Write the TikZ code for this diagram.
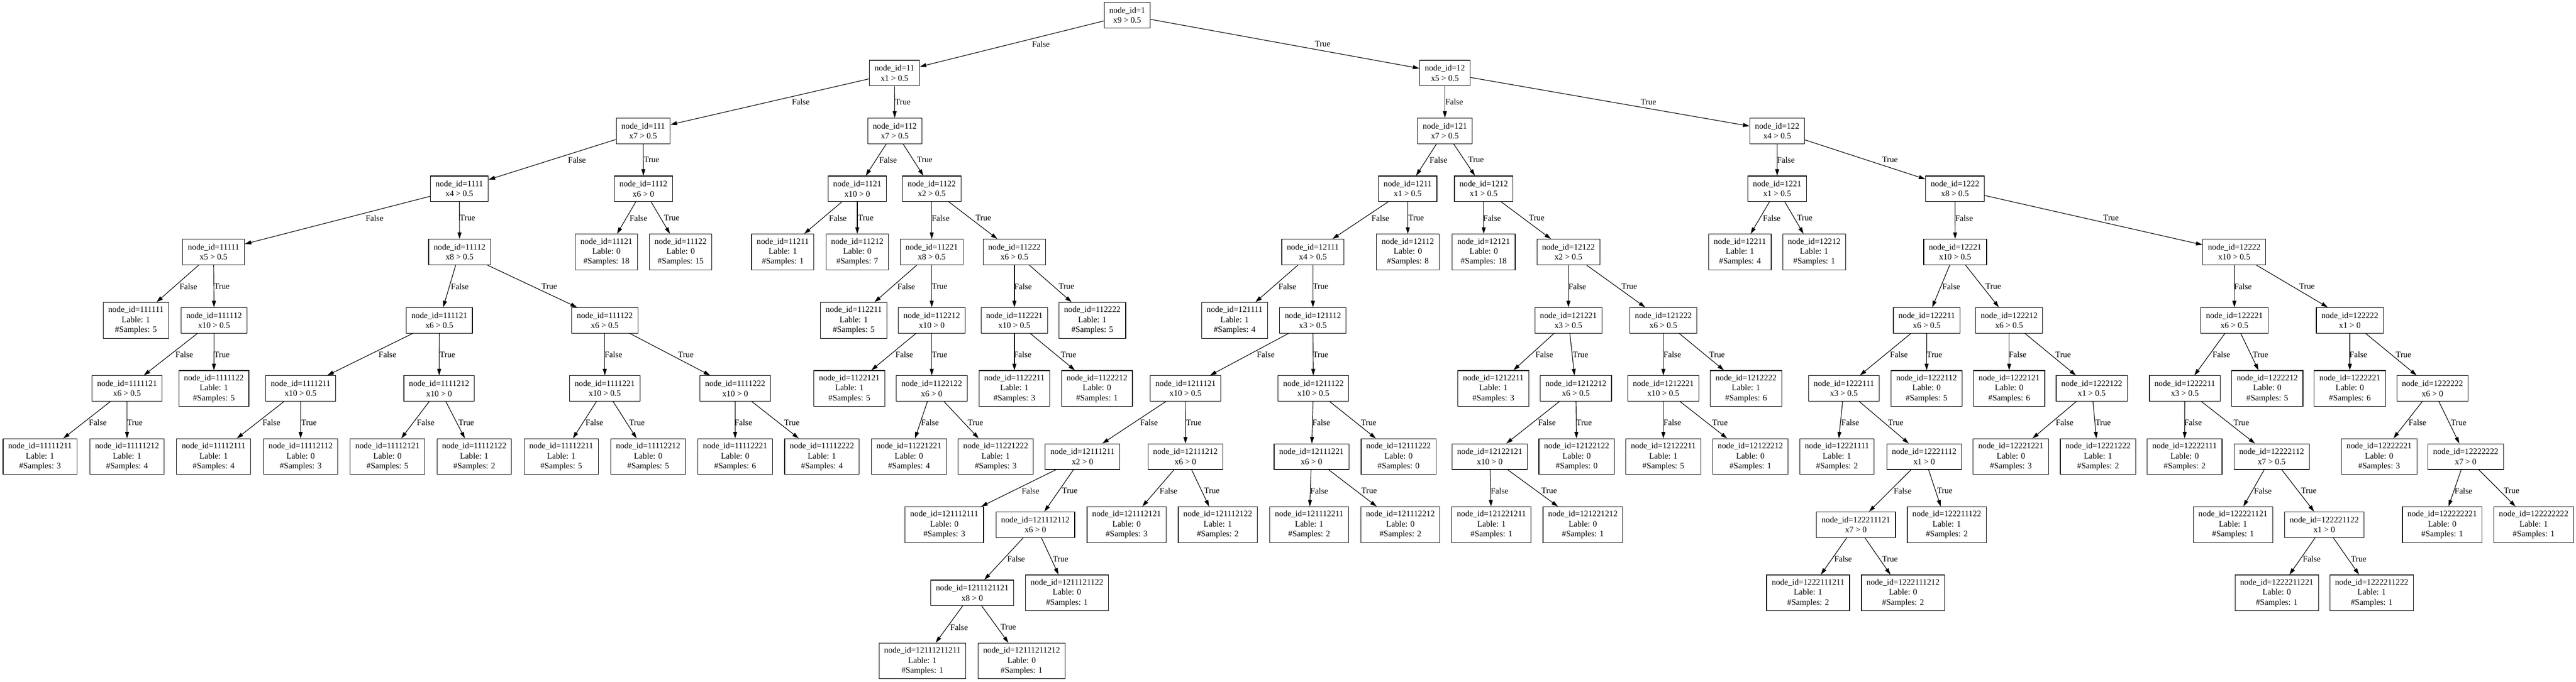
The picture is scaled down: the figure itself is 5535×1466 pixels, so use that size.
\documentclass[tikz,border=0pt]{standalone}
\usepackage{fontspec}
\setmainfont{Liberation Serif}
\usetikzlibrary{arrows.meta}
\newcommand\Sp[4]{\node[splitnode] (n#1) at (#2,#3) {node\_id=#1\\#4};}
\newcommand\Lf[5]{\node[leafnode] (n#1) at (#2,#3) {node\_id=#1\\Lable: #4\\\#Samples: #5};}
\newcommand\Ef[4]{\draw[edge] (n#1) -- (n#2); \node[elab] (f#2) at (#3,#4) {False};}
\newcommand\Et[4]{\draw[edge] (n#1) -- (n#2); \node[elab] (t#2) at (#3,#4) {True};}
\begin{document}
\begin{tikzpicture}[x=1pt,y=-1pt,
  basebox/.style={draw, line width=1.3pt, rectangle, align=center,
    font=\fontsize{18}{21.5}\selectfont, inner xsep=11pt, inner ysep=2pt,
    minimum width=69pt},
  splitnode/.style={basebox, minimum height=55pt},
  leafnode/.style={basebox, minimum height=77pt},
  edge/.style={line width=1.3pt, -{Triangle[length=14pt,width=8.5pt]}},
  elab/.style={anchor=west, inner sep=0pt, font=\fontsize{18}{21.5}\selectfont}]
\useasboundingbox[fill=white] (0,0) rectangle (5535,1466);
% level 0
\Sp{1}{2422}{32.5}{x9 > 0.5}
% level 1
\Sp{11}{1922}{157}{x1 > 0.5}
\Sp{12}{3104.6}{157}{x5 > 0.5}
% level 2
\Sp{111}{1382}{281.5}{x7 > 0.5}
\Sp{112}{1922.5}{281.5}{x7 > 0.5}
\Sp{121}{3104.6}{281.5}{x7 > 0.5}
\Sp{122}{3818.5}{281.5}{x4 > 0.5}
% level 3
\Sp{1111}{987}{406}{x4 > 0.5}
\Sp{1112}{1382.5}{406}{x6 > 0}
\Sp{1121}{1842}{406}{x10 > 0}
\Sp{1122}{2002}{406}{x2 > 0.5}
\Sp{1211}{3024.7}{406}{x1 > 0.5}
\Sp{1212}{3188}{406}{x1 > 0.5}
\Sp{1221}{3818.5}{406}{x1 > 0.5}
\Sp{1222}{4200.6}{406}{x8 > 0.5}
% level 4
\Sp{11111}{459}{542}{x5 > 0.5}
\Sp{11112}{987.5}{542}{x8 > 0.5}
\Lf{11121}{1303}{542}{0}{18}
\Lf{11122}{1462.5}{542}{0}{15}
\Lf{11211}{1682}{542}{1}{1}
\Lf{11212}{1842}{542}{0}{7}
\Sp{11221}{2002}{542}{x8 > 0.5}
\Sp{11222}{2179.6}{542}{x6 > 0.5}
\Sp{12111}{2821}{542}{x4 > 0.5}
\Lf{12112}{3025}{542}{0}{8}
\Lf{12121}{3188}{542}{0}{18}
\Sp{12122}{3370}{542}{x2 > 0.5}
\Lf{12211}{3738.6}{542}{1}{4}
\Lf{12212}{3898}{542}{1}{1}
\Sp{12221}{4201}{542}{x10 > 0.5}
\Sp{12222}{4800.6}{542}{x10 > 0.5}
% level 5
\Lf{111111}{292}{689}{1}{5}
\Sp{111112}{460}{689}{x10 > 0.5}
\Sp{111121}{944}{689}{x6 > 0.5}
\Sp{111122}{1299.5}{689}{x6 > 0.5}
\Lf{112211}{1834.5}{689}{1}{5}
\Sp{112212}{2002}{689}{x10 > 0}
\Sp{112221}{2179.6}{689}{x10 > 0.5}
\Lf{112222}{2347}{689}{1}{5}
\Lf{121111}{2652.8}{689}{1}{4}
\Sp{121112}{2821}{689}{x3 > 0.5}
\Sp{121221}{3370}{689}{x3 > 0.5}
\Sp{121222}{3574}{689}{x6 > 0.5}
\Sp{122211}{4140}{689}{x6 > 0.5}
\Sp{122212}{4317}{689}{x6 > 0.5}
\Sp{122221}{4801}{689}{x6 > 0.5}
\Sp{122222}{5049}{689}{x1 > 0}
% level 6
\Sp{1111121}{273}{835.5}{x6 > 0.5}
\Lf{1111122}{459.5}{835.5}{1}{5}
\Sp{1111211}{646}{835.5}{x10 > 0.5}
\Sp{1111212}{943.5}{835.5}{x10 > 0}
\Sp{1111221}{1299.5}{835.5}{x10 > 0.5}
\Sp{1111222}{1579.7}{835.5}{x10 > 0}
\Lf{1122121}{1825}{835.5}{1}{5}
\Sp{1122122}{2002}{835.5}{x6 > 0}
\Lf{1122211}{2179.6}{835.5}{1}{3}
\Lf{1122212}{2357}{835.5}{0}{1}
\Sp{1211121}{2547.4}{835.5}{x10 > 0.5}
\Sp{1211122}{2822}{835.5}{x10 > 0.5}
\Lf{1212211}{3208.7}{835.5}{1}{3}
\Sp{1212212}{3386}{835.5}{x6 > 0.5}
\Sp{1212221}{3574}{835.5}{x10 > 0.5}
\Lf{1212222}{3751.6}{835.5}{1}{6}
\Sp{1222111}{3962}{835.5}{x3 > 0.5}
\Lf{1222112}{4139.5}{835.5}{0}{5}
\Lf{1222121}{4317}{835.5}{0}{6}
\Sp{1222122}{4494.5}{835.5}{x1 > 0.5}
\Sp{1222211}{4694.5}{835.5}{x3 > 0.5}
\Lf{1222212}{4871.6}{835.5}{0}{5}
\Lf{1222221}{5049}{835.5}{0}{6}
\Sp{1222222}{5226.6}{835.5}{x6 > 0}
% level 7
\Lf{11111211}{86}{982}{1}{3}
\Lf{11111212}{273}{982}{1}{4}
\Lf{11112111}{459}{982}{1}{4}
\Lf{11112112}{646}{982}{0}{3}
\Lf{11112121}{832.5}{982}{0}{5}
\Lf{11112122}{1019}{982}{1}{2}
\Lf{11112211}{1206}{982}{1}{5}
\Lf{11112212}{1392.7}{982}{0}{5}
\Lf{11112221}{1579.5}{982}{0}{6}
\Lf{11112222}{1766}{982}{1}{4}
\Lf{11221221}{1953}{982}{0}{4}
\Lf{11221222}{2139.5}{982}{1}{3}
\Sp{12111211}{2326}{982}{x2 > 0}
\Sp{12111212}{2547}{982}{x6 > 0}
\Sp{12111221}{2818}{982}{x6 > 0}
\Lf{12111222}{3005}{982}{0}{0}
\Sp{12122121}{3201}{982}{x10 > 0}
\Lf{12122122}{3387.7}{982}{0}{0}
\Lf{12122211}{3574}{982}{1}{5}
\Lf{12122212}{3761}{982}{0}{1}
\Lf{12221111}{3947}{982}{1}{2}
\Sp{12221112}{4134.5}{982}{x1 > 0}
\Lf{12221221}{4320.7}{982}{0}{3}
\Lf{12221222}{4508}{982}{1}{2}
\Lf{12222111}{4694}{982}{0}{2}
\Sp{12222112}{4881}{982}{x7 > 0.5}
\Lf{12222221}{5112}{982}{0}{3}
\Sp{12222222}{5298}{982}{x7 > 0}
% level 8
\Lf{121112111}{2029}{1128.5}{0}{3}
\Sp{121112112}{2224.6}{1128.5}{x6 > 0}
\Lf{121112121}{2420.7}{1128.5}{0}{3}
\Lf{121112122}{2616.6}{1128.5}{1}{2}
\Lf{121112211}{2813}{1128.5}{1}{2}
\Lf{121112212}{3009}{1128.5}{0}{2}
\Lf{121221211}{3204.6}{1128.5}{1}{1}
\Lf{121221212}{3401}{1128.5}{0}{1}
\Sp{122211121}{3987.7}{1128.5}{x7 > 0}
\Lf{122211122}{4183}{1128.5}{1}{2}
\Lf{122221121}{4798}{1128.5}{1}{1}
\Sp{122221122}{4994}{1128.5}{x1 > 0}
\Lf{122222221}{5247.5}{1128.5}{0}{1}
\Lf{122222222}{5444}{1128.5}{1}{1}
% level 9
\Sp{1211121121}{2089}{1275}{x8 > 0}
\Lf{1211121122}{2292.5}{1275}{0}{1}
\Lf{1222111211}{3885}{1275}{1}{2}
\Lf{1222111212}{4089}{1275}{0}{2}
\Lf{1222211221}{4892}{1275}{0}{1}
\Lf{1222211222}{5096}{1275}{1}{1}
% level 10
\Lf{12111211211}{1982}{1421.5}{1}{1}
\Lf{12111211212}{2195}{1421.5}{0}{1}
% edges 0-1
\Ef{1}{11}{2217.5}{94.75}
\Et{1}{12}{2825}{94.75}
% edges 1-2
\Ef{11}{111}{1701.4}{219.5}
\Et{11}{112}{1923}{219.5}
\Ef{12}{121}{3105.5}{219.5}
\Et{12}{122}{3525}{219.5}
% edges 2-3
\Ef{111}{1111}{1220.5}{344}
\Et{111}{1112}{1383}{344}
\Ef{112}{1121}{1889}{344}
\Et{112}{1122}{1970}{344}
\Ef{121}{1211}{3071.6}{344}
\Et{121}{1212}{3154.6}{344}
\Ef{122}{1221}{3818}{344}
\Et{122}{1222}{4044}{344}
% edges 3-4
\Ef{1111}{11111}{785.7}{469}
\Et{1111}{11112}{987.5}{469}
\Ef{1112}{11121}{1352.7}{469}
\Et{1112}{11122}{1426.4}{469}
\Ef{1121}{11211}{1781}{469}
\Et{1121}{11212}{1843.4}{469}
\Ef{1122}{11221}{2002}{469}
\Et{1122}{11222}{2096}{469}
\Ef{1211}{12111}{2946.6}{469}
\Et{1211}{12112}{3026}{469}
\Ef{1212}{12121}{3186.8}{469}
\Et{1212}{12122}{3285}{469}
\Ef{1221}{12211}{3787.7}{469}
\Et{1221}{12212}{3861}{469}
\Ef{1222}{12221}{4201}{469}
\Et{1222}{12222}{4519}{469}
% edges 4-5
\Ef{11111}{111111}{385.7}{616}
\Et{11111}{111112}{459.8}{616}
\Ef{11112}{111121}{968.75}{616}
\Et{11112}{111122}{1163.4}{616}
\Ef{11221}{112211}{1928}{616}
\Et{11221}{112212}{2002}{616}
\Ef{11222}{112221}{2179}{616}
\Et{11222}{112222}{2274.6}{616}
\Ef{12111}{121111}{2747}{616}
\Et{12111}{121112}{2820.7}{616}
\Ef{12122}{121221}{3369.8}{616}
\Et{12122}{121222}{3484}{616}
\Ef{12221}{122211}{4173.4}{616}
\Et{12221}{122212}{4266}{616}
\Ef{12222}{122221}{4800}{616}
\Et{12222}{122222}{4940}{616}
% edges 5-6
\Ef{111112}{1111121}{376.8}{762.5}
\Et{111112}{1111122}{459.8}{762.5}
\Ef{111121}{1111211}{813.4}{762.5}
\Et{111121}{1111212}{944.6}{762.5}
\Ef{111122}{1111221}{1299}{762.5}
\Et{111122}{1111222}{1456.8}{762.5}
\Ef{112212}{1122121}{1923.75}{762.5}
\Et{112212}{1122122}{2002}{762.5}
\Ef{112221}{1122211}{2178}{762.5}
\Et{112221}{1122212}{2279}{762.5}
\Ef{121112}{1211121}{2700.5}{762.5}
\Et{121112}{1211122}{2820.7}{762.5}
\Ef{121221}{1212211}{3299}{762.5}
\Et{121221}{1212212}{3379}{762.5}
\Ef{121222}{1212221}{3574}{762.5}
\Et{121222}{1212222}{3672.5}{762.5}
\Ef{122211}{1222111}{4061}{762.5}
\Et{122211}{1222112}{4139.5}{762.5}
\Ef{122212}{1222121}{4316}{762.5}
\Et{122212}{1222122}{4416}{762.5}
\Ef{122221}{1222211}{4753.75}{762.5}
\Et{122221}{1222212}{4840}{762.5}
\Ef{122222}{1222221}{5048}{762.5}
\Et{122222}{1222222}{5147.5}{762.5}
% edges 6-7
\Ef{1111121}{11111211}{191}{909}
\Et{1111121}{11111212}{273}{909}
\Ef{1111211}{11112111}{564}{909}
\Et{1111211}{11112112}{647}{909}
\Ef{1111212}{11112121}{895.5}{909}
\Et{1111212}{11112122}{985}{909}
\Ef{1111221}{11112211}{1258}{909}
\Et{1111221}{11112212}{1351.8}{909}
\Ef{1111222}{11112221}{1578}{909}
\Et{1111222}{11112222}{1684.5}{909}
\Ef{1122122}{11221221}{1979}{909}
\Et{1122122}{11221222}{2079}{909}
\Ef{1211121}{12111211}{2449.6}{909}
\Et{1211121}{12111212}{2548}{909}
\Ef{1211122}{12111221}{2819.8}{909}
\Et{1211122}{12111222}{2924}{909}
\Ef{1212212}{12122121}{3304.6}{909}
\Et{1212212}{12122122}{3386.8}{909}
\Ef{1212221}{12122211}{3574}{909}
\Et{1212221}{12122212}{3678.75}{909}
\Ef{1222111}{12221111}{3956.4}{909}
\Et{1222111}{12221112}{4056.4}{909}
\Ef{1222122}{12221221}{4417}{909}
\Et{1222122}{12221222}{4502}{909}
\Ef{1222211}{12222111}{4693}{909}
\Et{1222211}{12222112}{4799}{909}
\Ef{1222222}{12222221}{5175}{909}
\Et{1222222}{12222222}{5266}{909}
% edges 7-8
\Ef{12111211}{121112111}{2195}{1055.5}
\Et{12111211}{121112112}{2281.8}{1055.5}
\Ef{12111212}{121112121}{2491.6}{1055.5}
\Et{12111212}{121112122}{2587}{1055.5}
\Ef{12111221}{121112211}{2815.4}{1055.5}
\Et{12111221}{121112212}{2925}{1055.5}
\Ef{12122121}{121221211}{3203}{1055.5}
\Et{12122121}{121221212}{3311.8}{1055.5}
\Ef{12221112}{122211121}{4069}{1055.5}
\Et{12221112}{122211122}{4161.8}{1055.5}
\Ef{12222112}{122221121}{4843}{1055.5}
\Et{12222112}{122221122}{4944}{1055.5}
\Ef{12222222}{122222221}{5274}{1055.5}
\Et{12222222}{122222222}{5379.6}{1055.5}
% edges 8-9
\Ef{121112112}{1211121121}{2164}{1202}
\Et{121112112}{1211121122}{2262}{1202}
\Ef{122211121}{1222111211}{3941}{1202}
\Et{122211121}{1222111212}{4044}{1202}
\Ef{122221122}{1222211221}{4948}{1202}
\Et{122221122}{1222211222}{5051}{1202}
% edges 9-10
\Ef{1211121121}{12111211211}{2041.6}{1349}
\Et{1211121121}{12111211212}{2149.6}{1349}
\end{tikzpicture}
\end{document}
